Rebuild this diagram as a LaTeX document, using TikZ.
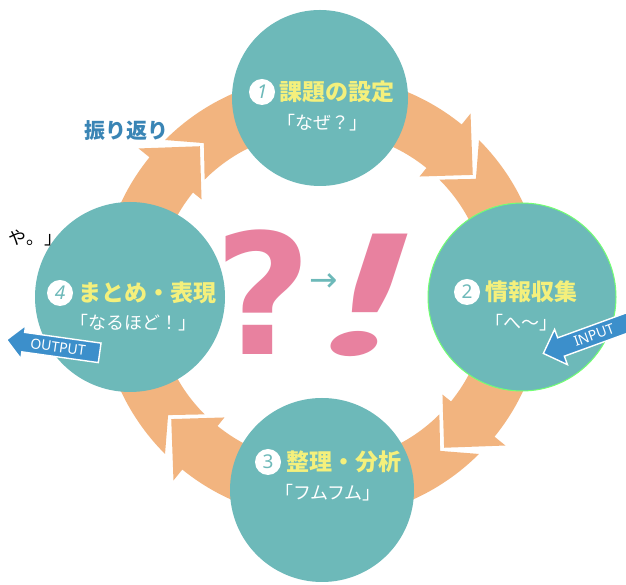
\documentclass[tikz,border=0pt]{standalone}
\usepackage{fontspec}
\setmainfont{Noto Sans CJK JP}
\newfontfamily\latinsans{Noto Sans}
\newfontfamily\heavy{DejaVu Sans}
\newfontfamily\latofont{Lato}
\usetikzlibrary{shapes.arrows}
\definecolor{circteal}{HTML}{6DB9B9}
\definecolor{ringorange}{HTML}{F2B47F}
\definecolor{titleyellow}{HTML}{F4F07C}
\definecolor{qpink}{HTML}{E8819F}
\definecolor{ioblue}{HTML}{3C8FCB}
\definecolor{labelblue}{HTML}{3A85B5}

\begin{document}
\begin{tikzpicture}[x=1pt, y=1pt,
  stage/.style={circle, fill=circteal, inner sep=0pt},
  badge/.style={circle, fill=white, minimum size=26pt, inner sep=0pt,
                text=circteal, font=\latinsans\fontsize{19}{19}\selectfont\bfseries},
  title/.style={text=titleyellow, anchor=west, inner sep=0pt,
                font=\fontsize{23}{23}\selectfont\bfseries},
  sub/.style={text=white, inner sep=0pt, font=\fontsize{18}{18}\selectfont},
  ring/.style={fill=ringorange},
  iobox/.style={single arrow, shape border rotate=180, fill=ioblue, draw=white,
                line width=1.4pt, text=white, inner xsep=3pt, inner ysep=4pt,
                font=\latinsans\fontsize{14}{14}\selectfont},
  bigmark/.style={text=qpink, inner sep=0pt},
]
\useasboundingbox[fill=white] (0,0) rectangle (626,585);
\coordinate (O) at (322,288);

% ring of four arrows, clockwise
\begin{scope}[shift={(O)}]
\foreach \c in {90,0,-90,180} {
  \pgfmathsetmacro\tc{\c+45}
  \pgfmathsetmacro\tn{\c+45-7.5}
  \pgfmathsetmacro\hb{\c-45+6}
  \pgfmathsetmacro\ht{\c-45-6}
  \fill[ring] (\tc:222) -- (\tn:194) -- (\tc:166)
    arc[start angle=\tc, end angle=\hb, radius=166]
    -- (\hb:155) -- (\ht:194) -- (\hb:236) -- (\hb:222)
    arc[start angle=\hb, end angle=\tc, radius=222] -- cycle;
}
\end{scope}

\node[stage, minimum size=176pt] (s1) at (320,487) {};
\node[stage, minimum size=188pt, draw=green!55!white, line width=1pt] (s2) at (522,288) {};
\node[stage, minimum size=184pt] (s3) at (322,95) {};
\node[stage, minimum size=190pt] (s4) at (130,288) {};

\node[badge] (b1) at (262,493) {\itshape 1};
\node[title] (t1) at (279,493) {課題の設定};
\node[sub] (q1) at (322,462) {「なぜ？」};

\node[badge] (b2) at (467,293) {2};
\node[title] (t2) at (485,293) {情報収集};
\node[sub] (q2) at (521,262) {「へ〜」};

\node[badge] (b3) at (268,123) {3};
\node[title] (t3) at (286,123) {整理・分析};
\node[sub] (q3) at (328,92) {「フムフム」};

\node[badge] (b4) at (60,292) {\itshape 4};
\node[title] (t4) at (78,292) {まとめ・表現};
\node[sub] (q4) at (133,262) {「なるほど！」};

\node[text=labelblue, font=\fontsize{21}{21}\selectfont\bfseries] (look) at (126,454) {振り返り};
\node[anchor=west, inner sep=0pt, font=\fontsize{18}{18}\selectfont] (cut) at (8,347) {や。」};

\node[iobox, rotate=-8, minimum height=94pt, single arrow head extend=7pt] (out) at (58,238) {OUTPUT};
\node[iobox, rotate=20, minimum height=98pt, single arrow head extend=9pt] (in) at (594,250) {INPUT};

\node[bigmark, font=\heavy\bfseries\fontsize{168}{168}\selectfont] (q) at (263,293) {?};
\node[bigmark, font=\latofont\bfseries\fontsize{168}{168}\selectfont, xscale=1.8, xslant=0.18] (ex) at (370,290) {!};
\node[text=circteal, inner sep=0pt, font=\heavy\fontsize{34}{34}\selectfont] (to) at (324,302) {→};
\end{tikzpicture}
\end{document}
